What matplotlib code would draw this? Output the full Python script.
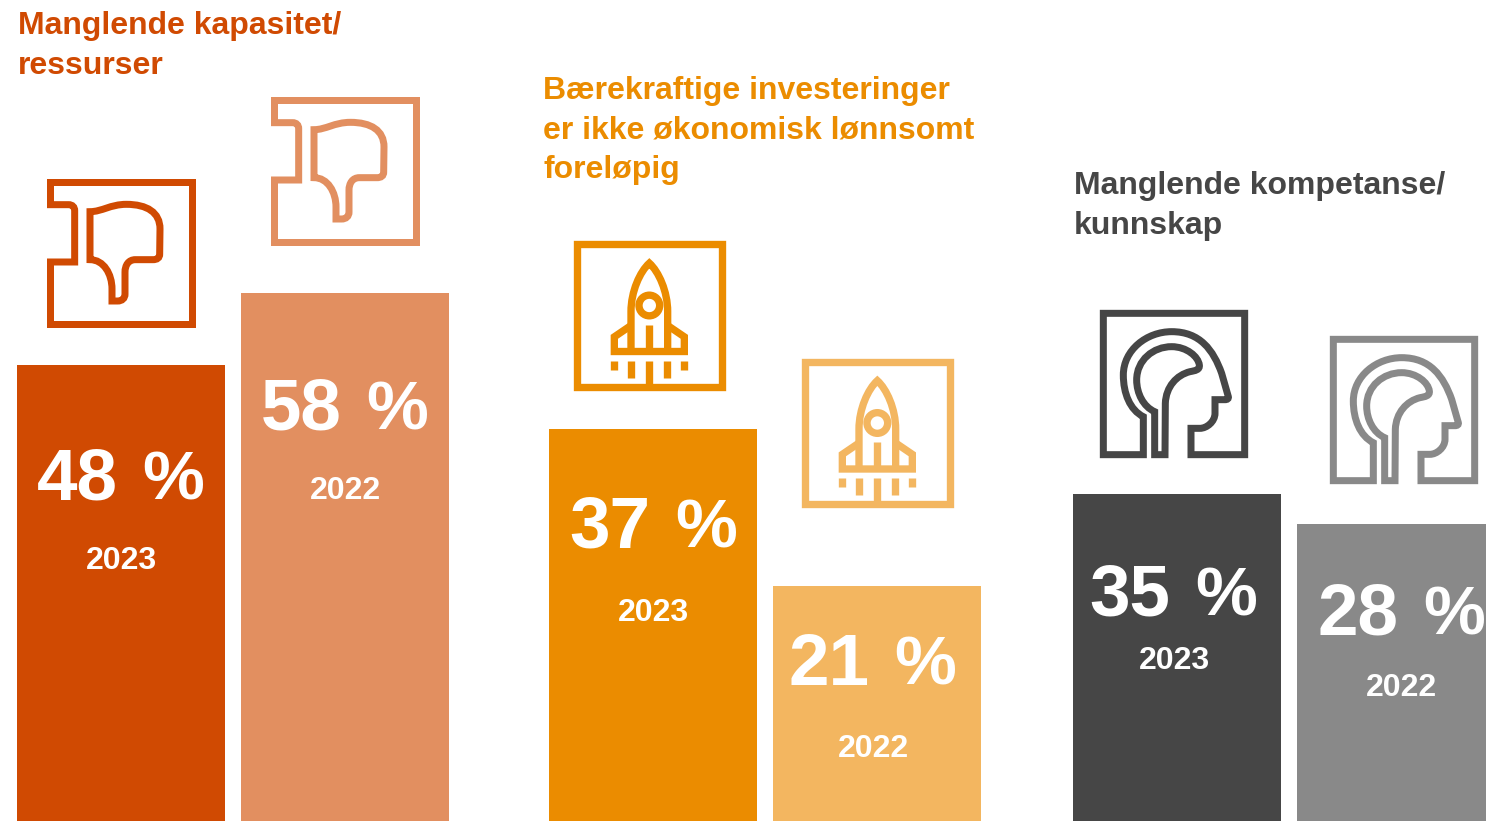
import matplotlib
matplotlib.use('Agg')
import matplotlib.pyplot as plt
from matplotlib.patches import PathPatch, Circle
from matplotlib.path import Path

W, H = 1486, 821

# bars are not to scale in the original, heights read in pixels
bar_heights = [456, 528, 392, 235, 327, 297]
percent_values = ['48', '58', '37', '21', '35', '28']
years = ['2023', '2022', '2023', '2022', '2023', '2022']
colors = ['#D04A02', '#E28F60', '#EB8C00', '#F3B660', '#464646', '#898989']
titles = ['Manglende kapasitet/\nressurser',
          'Bærekraftige investeringer\ner ikke økonomisk lønnsomt\nforeløpig',
          'Manglende kompetanse/\nkunnskap']
title_colors = ['#D04A02', '#EB8C00', '#464646']

# layout, pixels from top left
bar_left = [17, 241, 549, 773, 1073, 1297]
bar_width = 208
num_x = [121, 345, 654, 873, 1174, 1402]
num_base = [499, 429, 547.5, 684.5, 615.5, 634.5]
year_x = [121, 345, 653, 873, 1174, 1401]
year_base = [569, 499, 621, 757, 669, 696]
title_x = [18, 543, 1074]
title_base = [34, 99, 194]

M, L, C, Z = Path.MOVETO, Path.LINETO, Path.CURVE4, Path.CLOSEPOLY


def make_path(cmds):
    verts, codes = [], []
    for cmd in cmds:
        if cmd[0] == 'M':
            verts.append(cmd[1]); codes.append(M)
        elif cmd[0] == 'L':
            verts.append(cmd[1]); codes.append(L)
        elif cmd[0] == 'C':
            verts += list(cmd[1:]); codes += [C, C, C]
        else:
            verts.append((0, 0)); codes.append(Z)
    return verts, codes


def draw_shape(ax, cmds, ox, oy, px, py, color, lw):
    # icon shapes are written in zoom units (3x), origin ox,oy goes to px,py
    verts, codes = make_path(cmds)
    verts = [((x - ox) / 3 + px, H - ((y - oy) / 3 + py)) for x, y in verts]
    ax.add_patch(PathPatch(Path(verts, codes), fc='none', ec=color, lw=lw * 0.72 / 3,
                           capstyle='butt', joinstyle='miter'))


def thumb(ax, px, py, color):
    ox, oy = 52, 266
    a = [('M', (52, 343)), ('L', (117, 343)), ('C', (128, 343), (135, 350), (135, 361)),
         ('L', (135, 515)), ('L', (52, 515))]
    b = [('M', (62, 343)), ('L', (62, 276)), ('L', (487, 276)), ('L', (487, 701)),
         ('L', (62, 701)), ('L', (62, 515))]
    c = [('M', (181, 364)), ('C', (217, 364), (242, 342), (290, 342)),
         ('C', (352, 342), (391, 366), (391, 416)), ('L', (390, 491)),
         ('C', (390, 503), (382, 508), (370, 508)), ('L', (317, 508)),
         ('C', (297, 508), (286, 524), (286, 546)), ('L', (286, 611)),
         ('C', (286, 624), (277, 632), (264, 632)), ('L', (247, 632)), ('L', (247, 596)),
         ('C', (247, 551), (222, 508), (181, 508)), ('Z',)]
    for s in (a, b, c):
        draw_shape(ax, s, ox, oy, px, py, color, 21)


def rocket(ax, px, py, color):
    ox, oy = 24, 17
    lw = 22
    box = [('M', (35, 28)), ('L', (471, 28)), ('L', (471, 456)), ('L', (35, 456)), ('Z',)]
    body = [('M', (198, 350)), ('L', (198, 230)), ('C', (198, 170), (225, 110), (253, 85)),
            ('C', (281, 110), (308, 170), (308, 230)), ('L', (308, 350))]
    fins = [('M', (198, 272)), ('L', (148, 306)), ('L', (148, 350)), ('L', (358, 350)),
            ('L', (358, 306)), ('L', (308, 272))]
    for s in (box, body, fins):
        draw_shape(ax, s, ox, oy, px, py, color, lw)
    draw_shape(ax, [('M', (253, 270)), ('L', (253, 350))], ox, oy, px, py, color, lw)
    for x, y2 in [(148, 404), (199, 428), (253, 456), (307, 428), (358, 404)]:
        draw_shape(ax, [('M', (x, 378)), ('L', (x, y2))], ox, oy, px, py, color, lw)
    ax.add_patch(Circle(((253 - ox) / 3 + px, H - ((212 - oy) / 3 + py)), 31 / 3,
                        fc='none', ec=color, lw=lw * 0.72 / 3))


def head(ax, px, py, color):
    ox, oy = 30, 30
    outer = [('M', (303, 385)), ('L', (303, 464)), ('L', (464, 464)), ('L', (464, 40)),
             ('L', (40, 40)), ('L', (40, 464)), ('L', (160, 464)), ('L', (160, 350)),
             ('C', (120, 330), (100, 280), (100, 225)), ('C', (100, 150), (170, 95), (245, 95)),
             ('C', (330, 95), (370, 150), (395, 220)), ('L', (415, 290)),
             ('C', (416, 296), (412, 299), (405, 299)), ('L', (375, 299)), ('L', (375, 340)),
             ('C', (375, 365), (350, 385), (330, 385)), ('Z',)]
    inner = [('M', (194, 464)), ('L', (194, 335)), ('C', (160, 320), (140, 280), (140, 240)),
             ('C', (140, 180), (190, 140), (245, 140)), ('C', (290, 140), (325, 170), (328, 195)),
             ('C', (330, 210), (315, 212), (300, 215)), ('C', (260, 225), (228, 260), (226, 310)),
             ('L', (225, 464)), ('Z',)]
    draw_shape(ax, outer, ox, oy, px, py, color, 21)
    draw_shape(ax, inner, ox, oy, px, py, color, 21)


plt.rcParams['font.family'] = ['Liberation Sans', 'DejaVu Sans']

fig = plt.figure(figsize=(W / 100, H / 100), dpi=100)
ax = fig.add_axes([0, 0, 1, 1])
ax.set_xlim(0, W)
ax.set_ylim(0, H)
ax.axis('off')

ax.bar(bar_left, bar_heights, width=bar_width, align='edge', color=colors, linewidth=0)

for i in range(6):
    # digits and % placed apart, the original has a wider gap than a plain space
    ax.text(num_x[i] - 3.5, H - num_base[i], percent_values[i], color='white', fontsize=52.5,
            fontweight='bold', ha='right', va='baseline')
    ax.text(num_x[i] + 21, H - num_base[i], '%', color='white', fontsize=50,
            fontweight='bold', ha='left', va='baseline')
    ax.text(year_x[i], H - year_base[i], years[i], color='white', fontsize=23,
            fontweight='bold', ha='center', va='baseline')

for t, x, y, c in zip(titles, title_x, title_base, title_colors):
    for j, line in enumerate(t.split('\n')):
        ax.text(x, H - (y + 39.7 * j), line, color=c, fontsize=23, fontweight='bold',
                ha='left', va='baseline')

thumb(ax, 47, 179, colors[0])
thumb(ax, 271, 97, colors[1])
rocket(ax, 573, 240.5, colors[2])
rocket(ax, 801, 358, colors[3])
head(ax, 1100, 310, colors[4])
head(ax, 1330, 336, colors[5])

fig.savefig('out.png', dpi=100)
